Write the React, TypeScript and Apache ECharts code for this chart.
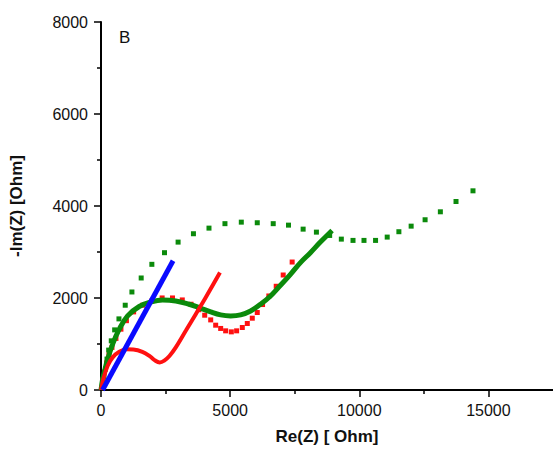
import React, { useEffect, useRef } from "react";
import * as echarts from "echarts";

// Green squares (measured data)
const greenSquares: number[][] = [
  [116, 282], [174, 455], [232, 672], [297, 867], [398, 1069], [529, 1307],
  [695, 1546], [938, 1843], [1197, 2131], [1556, 2435], [1969, 2732],
  [2459, 2985], [2985, 3215], [3579, 3397], [4181, 3519], [4799, 3616],
  [5432, 3649], [6050, 3636], [6668, 3616], [7259, 3584], [7826, 3497],
  [8340, 3432], [8853, 3360], [9305, 3280], [9757, 3252], [10182, 3252],
  [10630, 3252], [11081, 3324], [11533, 3441], [12008, 3562], [12548, 3701],
  [13139, 3874], [13745, 4098], [14402, 4330],
];

// Red squares (measured data)
const redSquares: number[][] = [
  [77, 217], [135, 390], [212, 585], [309, 759], [425, 926], [579, 1121],
  [772, 1322], [985, 1507], [1263, 1698], [1610, 1843], [1981, 1945],
  [2367, 2001], [2768, 2001], [3147, 1958], [3487, 1864], [3784, 1745],
  [4015, 1626], [4247, 1524], [4440, 1409], [4633, 1338], [4826, 1286],
  [5046, 1264], [5251, 1286], [5471, 1359], [5664, 1446], [5857, 1561],
  [6050, 1685], [6255, 1858], [6498, 2044], [6784, 2255], [7054, 2500],
  [7401, 2782],
];

// Green fitted curve
const greenLine: number[][] = [
  [0, 0], [58, 217], [127, 384], [259, 672], [452, 997], [707, 1322],
  [1031, 1611], [1479, 1815], [1931, 1914], [2382, 1958], [2896, 1936],
  [3409, 1864], [3795, 1793], [4247, 1698], [4633, 1633], [5019, 1611],
  [5405, 1633], [5792, 1719], [6178, 1864], [6564, 2044], [6950, 2276],
  [7336, 2515], [7722, 2769], [8108, 2985], [8494, 3215], [8946, 3469],
];

// Red fitted curve
const redLine: number[][] = [
  [0, 0], [89, 238], [259, 527], [452, 709], [707, 830], [1000, 885],
  [1250, 880], [1600, 830], [1900, 730], [2100, 640], [2270, 600],
  [2450, 640], [2650, 740], [2896, 926], [3282, 1286], [3668, 1648],
  [4054, 2010], [4606, 2552],
];

// Blue curve
const blueLine: number[][] = [
  [60, 0], [2790, 2810],
];

const xMajor = [0, 5000, 10000, 15000];
const xMinor = [2500, 7500, 12500];

const FONT = "'Liberation Sans', Arial, sans-serif";
const TXT = "#111";

export default function App() {
  const ref = useRef<HTMLDivElement>(null);
  useEffect(() => {
    if (!ref.current) return;
    const chart = echarts.init(ref.current, null, { renderer: "svg" });
    const axisLine = { show: true, lineStyle: { color: "#000", width: 2 } };
    const fmt = (v: number) => String(v);
    chart.setOption({
      animation: false,
      backgroundColor: "#fff",
      title: {
        text: "B",
        left: 114,
        top: 24,
        textStyle: { fontFamily: FONT, fontSize: 17, fontWeight: "normal", color: TXT },
      },
      grid: { left: 100, right: 0, top: 22, bottom: 59 },
      xAxis: [
        {
          type: "value",
          min: 0,
          max: 17500,
          interval: 5000,
          name: "Re(Z) [ Ohm]",
          nameLocation: "middle",
          nameGap: 38,
          nameTextStyle: { fontFamily: FONT, fontSize: 17, fontWeight: "bold", color: TXT },
          axisLine,
          axisTick: { show: true, length: 7, customValues: xMajor, lineStyle: { color: "#000", width: 1.5 } },
          axisLabel: { customValues: xMajor, formatter: fmt, margin: 12, fontFamily: FONT, fontSize: 16, color: TXT },
          splitLine: { show: false },
        },
        {
          type: "value",
          min: 0,
          max: 17500,
          position: "bottom",
          axisLine: { show: false },
          axisTick: { show: true, length: 4, customValues: xMinor, lineStyle: { color: "#000", width: 1.5 } },
          axisLabel: { show: false },
          splitLine: { show: false },
        },
      ],
      yAxis: {
        type: "value",
        min: 0,
        max: 8000,
        interval: 2000,
        name: "-Im(Z) [Ohm]",
        nameLocation: "middle",
        nameGap: 76,
        nameTextStyle: { fontFamily: FONT, fontSize: 17, fontWeight: "bold", color: TXT },
        axisLine,
        axisTick: { show: true, length: 7, lineStyle: { color: "#000", width: 1.5 } },
        minorTick: { show: true, splitNumber: 2, length: 4, lineStyle: { color: "#000", width: 1.5 } },
        axisLabel: { formatter: fmt, margin: 13, fontFamily: FONT, fontSize: 16, color: TXT },
        splitLine: { show: false },
      },
      series: [
        {
          type: "scatter",
          data: greenSquares,
          symbol: "rect",
          symbolSize: 5,
          itemStyle: { color: "#0b8a0b", opacity: 1 },
        },
        {
          type: "scatter",
          data: redSquares,
          symbol: "rect",
          symbolSize: 5,
          itemStyle: { color: "#ff1010", opacity: 1 },
        },
        {
          type: "line",
          data: greenLine,
          smooth: 0.4,
          showSymbol: false,
          lineStyle: { color: "#0b8a0b", width: 5 },
        },
        {
          type: "line",
          data: redLine,
          smooth: 0.4,
          showSymbol: false,
          lineStyle: { color: "#ff1010", width: 4 },
        },
        {
          type: "line",
          data: blueLine,
          showSymbol: false,
          lineStyle: { color: "#0a0aff", width: 5 },
        },
      ],
    });
    return () => chart.dispose();
  }, []);
  return (
    <div
      ref={ref}
      style={{ position: "absolute", left: 0, top: 0, width: 553, height: 450 }}
    />
  );
}
